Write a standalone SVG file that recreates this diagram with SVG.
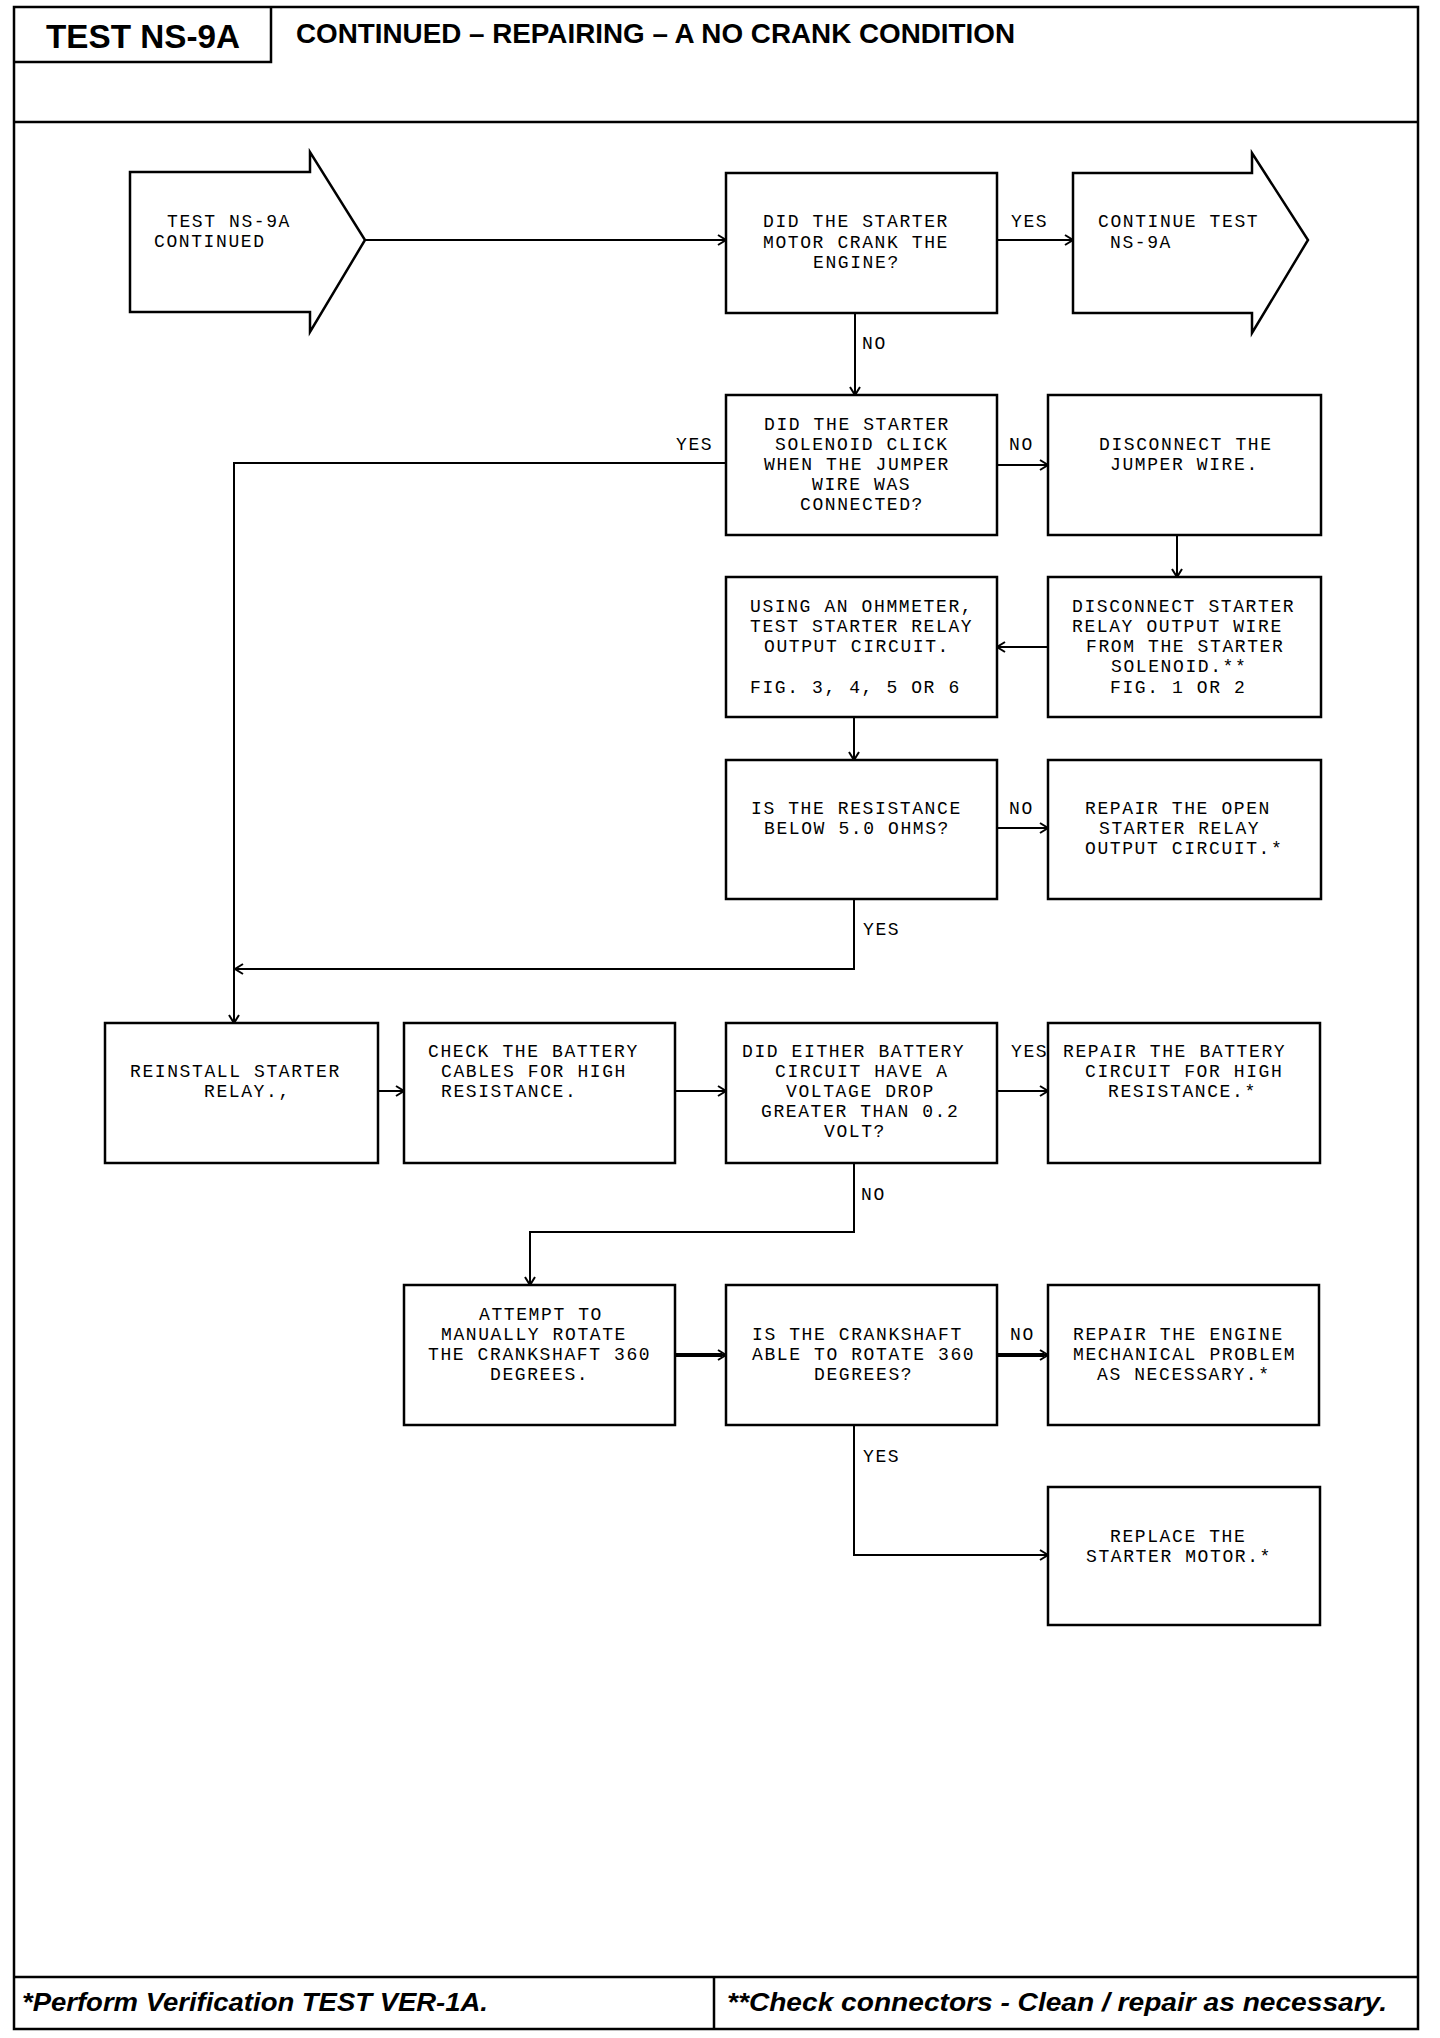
<svg xmlns="http://www.w3.org/2000/svg" width="1440" height="2038" viewBox="0 0 1440 2038">
<defs>
<style>
.frame{fill:none;stroke:#000;stroke-width:2.5}
.box{fill:#fff;stroke:#000;stroke-width:2.5}
.t{font-family:"Liberation Mono","DejaVu Sans Mono",monospace;font-size:18px;letter-spacing:1.6px;fill:#000}
.c{fill:none;stroke:#000;stroke-width:2}
.ck{fill:none;stroke:#000;stroke-width:4}
.hd{font-family:"Liberation Sans",Arial,sans-serif;font-weight:bold;fill:#000}
.ft{font-family:"Liberation Sans",Arial,sans-serif;font-weight:bold;font-style:italic;font-size:26px;fill:#000}
</style>
<marker id="ah" markerWidth="12" markerHeight="12" refX="10" refY="6" orient="auto" markerUnits="userSpaceOnUse">
<path d="M2,1 L10,6 L2,11" fill="none" stroke="#000" stroke-width="2"/>
</marker>
</defs>
<rect width="1440" height="2038" fill="#fff"/>
<g id="frame">
<rect class="frame" x="14" y="7" width="1404" height="2022"/>
<path class="frame" d="M271,7 V62 H14"/>
<path class="frame" d="M14,122 H1418"/>
<path class="frame" d="M14,1977 H1418 M714,1977 V2029"/>
<text class="hd" x="46" y="48" font-size="34" textLength="194" lengthAdjust="spacingAndGlyphs">TEST NS-9A</text>
<text class="hd" x="296" y="43" font-size="28" textLength="719" lengthAdjust="spacingAndGlyphs">CONTINUED – REPAIRING – A NO CRANK CONDITION</text>
<text class="ft" x="22" y="2011" textLength="466" lengthAdjust="spacingAndGlyphs">*Perform Verification TEST VER-1A.</text>
<text class="ft" x="727" y="2011" textLength="660" lengthAdjust="spacingAndGlyphs">**Check connectors - Clean / repair as necessary.</text>
</g>
<g id="connectors">
<path class="c" d="M365,240 H726" marker-end="url(#ah)"/>
<path class="c" d="M997,240 H1073" marker-end="url(#ah)"/>
<path class="c" d="M855,313 V395" marker-end="url(#ah)"/>
<path class="c" d="M726,463 H234 V1023" marker-end="url(#ah)"/>
<path class="c" d="M997,465 H1048" marker-end="url(#ah)"/>
<path class="c" d="M1177,535 V577" marker-end="url(#ah)"/>
<path class="c" d="M1048,647 H997" marker-end="url(#ah)"/>
<path class="c" d="M854,717 V760" marker-end="url(#ah)"/>
<path class="c" d="M997,828 H1048" marker-end="url(#ah)"/>
<path class="c" d="M854,899 V969 H235" marker-end="url(#ah)"/>
<path class="c" d="M378,1091 H404" marker-end="url(#ah)"/>
<path class="c" d="M675,1091 H726" marker-end="url(#ah)"/>
<path class="c" d="M997,1091 H1048" marker-end="url(#ah)"/>
<path class="c" d="M854,1163 V1232 H530 V1285" marker-end="url(#ah)"/>
<path class="ck" d="M675,1355 H722"/>
<path class="c" d="M712,1355 H726" marker-end="url(#ah)"/>
<path class="ck" d="M997,1355 H1044"/>
<path class="c" d="M1034,1355 H1048" marker-end="url(#ah)"/>
<path class="c" d="M854,1425 V1555 H1048" marker-end="url(#ah)"/>
<text class="t" x="1011" y="227">YES</text>
<text class="t" x="862" y="349">NO</text>
<text class="t" x="676" y="450">YES</text>
<text class="t" x="1009" y="450">NO</text>
<text class="t" x="1009" y="814">NO</text>
<text class="t" x="863" y="935">YES</text>
<text class="t" x="1011" y="1057">YES</text>
<text class="t" x="861" y="1200">NO</text>
<text class="t" x="1010" y="1340">NO</text>
<text class="t" x="863" y="1462">YES</text>
</g>
<g id="n-start">
<path class="box" d="M130,172 H310 V152 L365,240 L310,332 V312 H130 Z"/>
<text class="t" x="167" y="227">TEST NS-9A</text>
<text class="t" x="154" y="247">CONTINUED</text>
</g>
<g id="n-crank">
<rect class="box" x="726" y="173" width="271" height="140"/>
<text class="t" x="763" y="227">DID THE STARTER</text>
<text class="t" x="763" y="248">MOTOR CRANK THE</text>
<text class="t" x="813" y="268">ENGINE?</text>
</g>
<g id="n-continue">
<path class="box" d="M1073,173 H1252 V153 L1308,240 L1252,333 V313 H1073 Z"/>
<text class="t" x="1098" y="227">CONTINUE TEST</text>
<text class="t" x="1110" y="248">NS-9A</text>
</g>
<g id="n-solenoid">
<rect class="box" x="726" y="395" width="271" height="140"/>
<text class="t" x="764" y="430">DID THE STARTER</text>
<text class="t" x="775" y="450">SOLENOID CLICK</text>
<text class="t" x="764" y="470">WHEN THE JUMPER</text>
<text class="t" x="812" y="490">WIRE WAS</text>
<text class="t" x="800" y="510">CONNECTED?</text>
</g>
<g id="n-disc-jumper">
<rect class="box" x="1048" y="395" width="273" height="140"/>
<text class="t" x="1099" y="450">DISCONNECT THE</text>
<text class="t" x="1110" y="470">JUMPER WIRE.</text>
</g>
<g id="n-disc-relay">
<rect class="box" x="1048" y="577" width="273" height="140"/>
<text class="t" x="1072" y="612">DISCONNECT STARTER</text>
<text class="t" x="1072" y="632">RELAY OUTPUT WIRE</text>
<text class="t" x="1086" y="652">FROM THE STARTER</text>
<text class="t" x="1111" y="672">SOLENOID.**</text>
<text class="t" x="1110" y="693">FIG. 1 OR 2</text>
</g>
<g id="n-ohmmeter">
<rect class="box" x="726" y="577" width="271" height="140"/>
<text class="t" x="750" y="612">USING AN OHMMETER,</text>
<text class="t" x="750" y="632">TEST STARTER RELAY</text>
<text class="t" x="764" y="652">OUTPUT CIRCUIT.</text>
<text class="t" x="750" y="693">FIG. 3, 4, 5 OR 6</text>
</g>
<g id="n-resistance">
<rect class="box" x="726" y="760" width="271" height="139"/>
<text class="t" x="751" y="814">IS THE RESISTANCE</text>
<text class="t" x="764" y="834">BELOW 5.0 OHMS?</text>
</g>
<g id="n-repair-open">
<rect class="box" x="1048" y="760" width="273" height="139"/>
<text class="t" x="1085" y="814">REPAIR THE OPEN</text>
<text class="t" x="1099" y="834">STARTER RELAY</text>
<text class="t" x="1085" y="854">OUTPUT CIRCUIT.*</text>
</g>
<g id="n-reinstall">
<rect class="box" x="105" y="1023" width="273" height="140"/>
<text class="t" x="130" y="1077">REINSTALL STARTER</text>
<text class="t" x="204" y="1097">RELAY.,</text>
</g>
<g id="n-check">
<rect class="box" x="404" y="1023" width="271" height="140"/>
<text class="t" x="428" y="1057">CHECK THE BATTERY</text>
<text class="t" x="441" y="1077">CABLES FOR HIGH</text>
<text class="t" x="441" y="1097">RESISTANCE.</text>
</g>
<g id="n-either">
<rect class="box" x="726" y="1023" width="271" height="140"/>
<text class="t" x="742" y="1057">DID EITHER BATTERY</text>
<text class="t" x="775" y="1077">CIRCUIT HAVE A</text>
<text class="t" x="786" y="1097">VOLTAGE DROP</text>
<text class="t" x="761" y="1117">GREATER THAN 0.2</text>
<text class="t" x="824" y="1137">VOLT?</text>
</g>
<g id="n-repair-battery">
<rect class="box" x="1048" y="1023" width="272" height="140"/>
<text class="t" x="1063" y="1057">REPAIR THE BATTERY</text>
<text class="t" x="1085" y="1077">CIRCUIT FOR HIGH</text>
<text class="t" x="1108" y="1097">RESISTANCE.*</text>
</g>
<g id="n-attempt">
<rect class="box" x="404" y="1285" width="271" height="140"/>
<text class="t" x="479" y="1320">ATTEMPT TO</text>
<text class="t" x="441" y="1340">MANUALLY ROTATE</text>
<text class="t" x="428" y="1360">THE CRANKSHAFT 360</text>
<text class="t" x="490" y="1380">DEGREES.</text>
</g>
<g id="n-crankshaft">
<rect class="box" x="726" y="1285" width="271" height="140"/>
<text class="t" x="752" y="1340">IS THE CRANKSHAFT</text>
<text class="t" x="752" y="1360">ABLE TO ROTATE 360</text>
<text class="t" x="814" y="1380">DEGREES?</text>
</g>
<g id="n-repair-engine">
<rect class="box" x="1048" y="1285" width="271" height="140"/>
<text class="t" x="1073" y="1340">REPAIR THE ENGINE</text>
<text class="t" x="1073" y="1360">MECHANICAL PROBLEM</text>
<text class="t" x="1097" y="1380">AS NECESSARY.*</text>
</g>
<g id="n-replace">
<rect class="box" x="1048" y="1487" width="272" height="138"/>
<text class="t" x="1110" y="1542">REPLACE THE</text>
<text class="t" x="1086" y="1562">STARTER MOTOR.*</text>
</g>
</svg>
